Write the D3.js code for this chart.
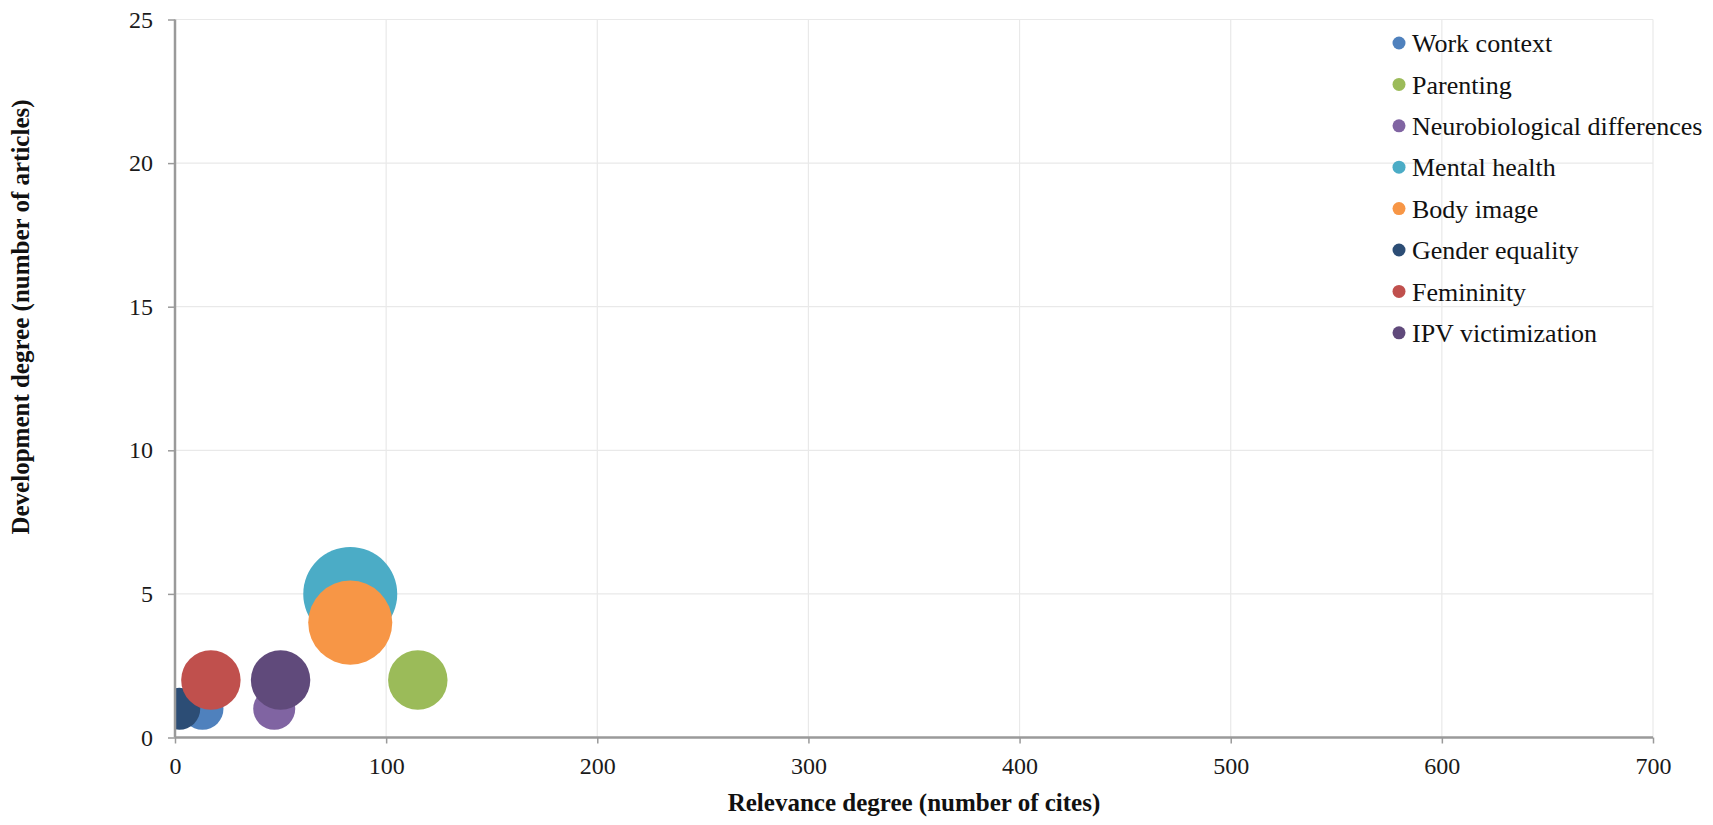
<!DOCTYPE html>
<html>
<head>
<meta charset="utf-8">
<script src="https://cdn.jsdelivr.net/npm/d3@7"></script>
<style>
  html, body { margin: 0; padding: 0; background: #ffffff; }
  svg { display: block; }
</style>
</head>
<body>
<svg id="chart" width="1713" height="825"></svg>
<script>
// ---- Data ----
const categories = ["Work context", "Parenting", "Neurobiological differences", "Mental health",
                    "Body image", "Gender equality", "Femininity", "IPV victimization"];
const cites    = [13, 115, 47, 83, 83, 2, 17, 50];   // x: relevance degree
const articles = [1, 2, 1, 5, 4, 1, 2, 2];          // y: development degree
const bubbleSize = [1, 2, 1, 5, 4, 1, 2, 2];        // bubble size
const colors = ["#4f81bd", "#9bbb59", "#8064a2", "#4bacc6", "#f79646", "#2c4d75", "#c0504d", "#604a7b"];
const xTicks = [0, 100, 200, 300, 400, 500, 600, 700];
const yTicks = [0, 5, 10, 15, 20, 25];

const data = categories.map((c, i) => ({ name: c, x: cites[i], y: articles[i], s: bubbleSize[i], color: colors[i] }));

// ---- Layout ----
const svg = d3.select("#chart");
const pL = 175, pR = 1653, pT = 19.5, pB = 737.5;
const serif = "'Liberation Serif', 'Times New Roman', serif";

const x = d3.scaleLinear().domain([0, 700]).range([pL, pR]);
const y = d3.scaleLinear().domain([0, 25]).range([pB, pT]);
const r = d3.scaleSqrt().domain([0, 5]).range([0, 47]);

svg.append("rect").attr("width", 1713).attr("height", 825).attr("fill", "#ffffff");

// gridlines
svg.append("g").selectAll("line").data(xTicks.filter(d => d > 0)).join("line")
  .attr("x1", d => x(d)).attr("x2", d => x(d)).attr("y1", pT).attr("y2", pB)
  .attr("stroke", "#e9e9e9").attr("stroke-width", 1.2);
svg.append("g").selectAll("line").data(yTicks.filter(d => d > 0)).join("line")
  .attr("x1", pL).attr("x2", pR).attr("y1", d => y(d)).attr("y2", d => y(d))
  .attr("stroke", "#e9e9e9").attr("stroke-width", 1.2);

// clip
svg.append("clipPath").attr("id", "plotclip").append("rect")
  .attr("x", pL).attr("y", pT).attr("width", pR - pL).attr("height", pB - pT);

// bubbles
svg.append("g").attr("clip-path", "url(#plotclip)").selectAll("circle").data(data).join("circle")
  .attr("cx", d => x(d.x)).attr("cy", d => y(d.y)).attr("r", d => r(d.s))
  .attr("fill", d => d.color);

// axes
const xAxis = d3.axisBottom(x).tickValues(xTicks).tickSize(6).tickPadding(13);
const yAxis = d3.axisLeft(y).tickValues(yTicks).tickSize(7).tickPadding(15);

const gx = svg.append("g").attr("transform", `translate(0,${pB})`).call(xAxis);
const gy = svg.append("g").attr("transform", `translate(${pL},0)`).call(yAxis);
[gx, gy].forEach(g => {
  g.select(".domain").attr("stroke", "#9a9a9a").attr("stroke-width", 2.5);
  g.selectAll(".tick line").attr("stroke", "#9a9a9a").attr("stroke-width", 1.5);
  g.selectAll(".tick text").attr("fill", "#1a1a1a")
    .style("font-family", serif).style("font-size", "24px");
});
gx.select(".domain").attr("d", `M${pL},0H${pR}`);
gy.select(".domain").attr("d", `M0,${pB}V${pT}`);

// axis titles
svg.append("text").attr("x", (pL + pR) / 2).attr("y", 811)
  .attr("text-anchor", "middle")
  .style("font-family", serif)
  .style("font-size", "25px").style("font-weight", "bold").attr("fill", "#111")
  .text("Relevance degree (number of cites)");

svg.append("text").attr("transform", "translate(29,317) rotate(-90)")
  .attr("text-anchor", "middle")
  .style("font-family", serif)
  .style("font-size", "25px").style("font-weight", "bold").attr("fill", "#111")
  .text("Development degree (number of articles)");

// legend
const legend = svg.append("g").attr("transform", "translate(1399,43)");
const li = legend.selectAll("g").data(data).join("g")
  .attr("transform", (d, i) => `translate(0,${i * 41.4})`);
li.append("circle").attr("r", 6.5).attr("fill", d => d.color);
li.append("text").attr("x", 13).attr("dy", "0.35em")
  .style("font-family", serif).style("font-size", "26px")
  .attr("fill", "#111").text(d => d.name);
</script>
</body>
</html>
